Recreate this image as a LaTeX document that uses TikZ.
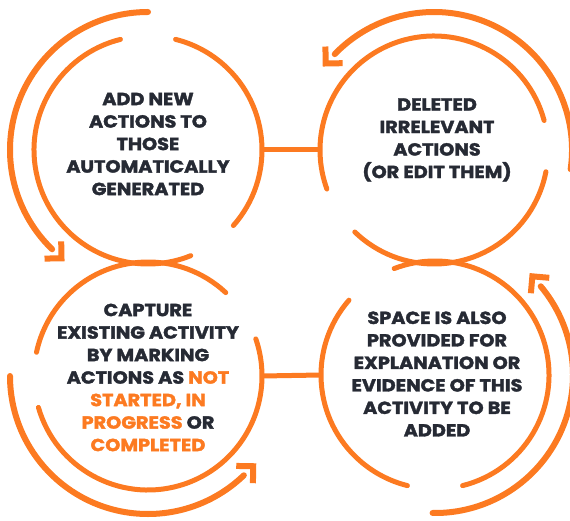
\documentclass[tikz,border=0pt]{standalone}
\usepackage{fontspec}
\setmainfont{Poppins}[BoldFont={* Bold},BoldFeatures={FakeStretch=1.1,FakeBold=2}]
\definecolor{orng}{RGB}{252,122,33}
\definecolor{ink}{RGB}{38,42,52}
\begin{document}
\begin{tikzpicture}[x=1pt,y=1pt,
  ring/.style={circle,minimum size=228pt,inner sep=0pt},
  inarc/.style={draw=orng,line width=5pt,line cap=round},
  outarc/.style={draw=orng,line width=6pt,line cap=round},
  link/.style={draw=orng,line width=5pt},
  label/.style={align=center,text=ink,font=\fontsize{17.5}{22.5}\selectfont\bfseries},
  chev/.pic={\draw[orng,line width=6pt,line join=miter,line cap=butt] (-12,12) -- (0,0) -- (-12,-12);}
]
\useasboundingbox (0,0) rectangle (570,520);
% circle nodes
\node[ring] (tl) at (148,370) {};
\node[ring] (tr) at (434,370) {};
\node[ring] (bl) at (148,144) {};
\node[ring] (br) at (435,145) {};
% inner arcs
\path[inarc] (tl.center) ++(104:114) arc[start angle=104,end angle=292,radius=114];
\path[inarc] (tl.center) ++(-41.5:114) arc[start angle=-41.5,end angle=76,radius=114];
\path[inarc] (tr.center) ++(15:114) arc[start angle=15,end angle=200,radius=114];
\path[inarc] (tr.center) ++(226:114) arc[start angle=226,end angle=349,radius=114];
\path[inarc] (bl.center) ++(47:114) arc[start angle=47,end angle=168,radius=114];
\path[inarc] (bl.center) ++(-164:114) arc[start angle=-164,end angle=19,radius=114];
\path[inarc] (br.center) ++(-76:114) arc[start angle=-76,end angle=111,radius=114];
\path[inarc] (br.center) ++(139:114) arc[start angle=139,end angle=256,radius=114];
% outer arcs with arrowheads
\path[outarc] (tl.center) ++(90:138) arc[start angle=90,end angle=226,radius=138];
\path (tl.center) ++(226:138) ++(316:13) pic[rotate=316] {chev};
\path[outarc] (tr.center) ++(-8:138) arc[start angle=-8,end angle=136,radius=138];
\path (tr.center) ++(136:138) ++(226:13) pic[rotate=226] {chev};
\path[outarc] (bl.center) ++(180:138) arc[start angle=180,end angle=314,radius=138];
\path (bl.center) ++(314:138) ++(44:13) pic[rotate=44] {chev};
\path[outarc] (br.center) ++(269:138) arc[start angle=269,end angle=400,radius=138];
\path (br.center) ++(40:138) ++(130:13) pic[rotate=130] {chev};
% connectors
\draw[link] (tl.east) -- (tr.west);
\draw[link] (bl.east) -- (br.west);
% texts
\node[label] (tltxt) at (148,376) {ADD NEW\\ACTIONS TO\\THOSE\\AUTOMATICALLY\\GENERATED};
\node[label] (trtxt) at (437,380) {DELETED\\IRRELEVANT\\ACTIONS\\(OR EDIT THEM)};
\node[label] (bltxt) at (148,142.5) {CAPTURE\\EXISTING ACTIVITY\\BY MARKING\\ACTIONS AS \textcolor{orng}{NOT}\\\textcolor{orng}{STARTED, IN}\\\textcolor{orng}{PROGRESS} OR\\\textcolor{orng}{COMPLETED}};
\node[label] (brtxt) at (437,146) {SPACE IS ALSO\\PROVIDED FOR\\EXPLANATION OR\\EVIDENCE OF THIS\\ACTIVITY TO BE\\ADDED};
\end{tikzpicture}
\end{document}
